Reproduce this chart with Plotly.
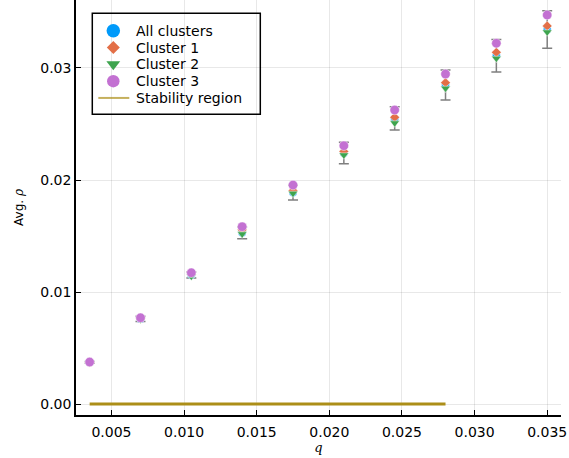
import plotly.graph_objects as go

# Coupling strength values
q_vals = [0.0035, 0.007, 0.0105, 0.014, 0.0175, 0.021, 0.0245, 0.028, 0.0315, 0.035]

# Average rho over all clusters, with standard deviation
all_mean = [0.00372, 0.00760, 0.01152, 0.01528, 0.01888, 0.02242, 0.02550, 0.02848, 0.03110, 0.03344]
all_err = [0.00008, 0.00023, 0.00027, 0.00052, 0.00066, 0.00096, 0.00104, 0.00134, 0.00145, 0.00168]

# Per-cluster averages
cluster1 = [0.00372, 0.00762, 0.01158, 0.01555, 0.01905, 0.02255, 0.02560, 0.02869, 0.03140, 0.03375]
cluster2 = [0.00370, 0.00755, 0.01140, 0.01518, 0.01881, 0.02223, 0.02509, 0.02819, 0.03086, 0.03321]
cluster3 = [0.00375, 0.00770, 0.01172, 0.01583, 0.01955, 0.02306, 0.02625, 0.02946, 0.03221, 0.03473]

# Stable synchronous region along q
stability_q = [0.0035, 0.028]
stability_rho = [0.0, 0.0]

x_ticks = [0.005, 0.010, 0.015, 0.020, 0.025, 0.030, 0.035]
y_ticks = [0.00, 0.01, 0.02, 0.03]

series_names = ["All clusters", "Cluster 1", "Cluster 2", "Cluster 3", "Stability region"]

FONT = "DejaVu Sans"
BLUE, ORANGE, GREEN, PURPLE, GOLD = "#009AFA", "#E36F47", "#3EA44E", "#C371D2", "#AC8E18"
mk_line = dict(width=0.6, color="rgba(255,255,255,0.8)")

fig = go.Figure()
fig.add_trace(go.Scatter(
    x=q_vals, y=all_mean, mode="markers", name=series_names[0], showlegend=False,
    marker=dict(symbol="circle", size=8, color=BLUE, line=mk_line),
    error_y=dict(type="data", array=all_err, color="#7f7f7f", thickness=1.5, width=5),
))
fig.add_trace(go.Scatter(
    x=q_vals, y=cluster1, mode="markers", name=series_names[1], showlegend=False,
    marker=dict(symbol="diamond", size=7.5, color=ORANGE, line=mk_line),
))
fig.add_trace(go.Scatter(
    x=q_vals, y=cluster2, mode="markers", name=series_names[2], showlegend=False,
    marker=dict(symbol="triangle-down", size=8.5, color=GREEN, line=mk_line),
))
fig.add_trace(go.Scatter(
    x=q_vals, y=cluster3, mode="markers", name=series_names[3], showlegend=False,
    marker=dict(symbol="circle", size=9.5, color=PURPLE, line=mk_line),
))
fig.add_trace(go.Scatter(
    x=stability_q, y=stability_rho, mode="lines", name=series_names[4], showlegend=False,
    line=dict(color=GOLD, width=3),
))

# ---- compact legend, laid out on an overlay axis in plot-area fractions ----
LEG_BOX = (0.0336, 0.7246, 0.380, 0.968)           # x0, y0, x1, y1
LEG_SYM_X = 0.0769
LEG_TEXT_X = 0.1216
LEG_ROWS = [0.926, 0.8855, 0.845, 0.8045, 0.764]
LEG_LINE_X = (0.046, 0.1099)

legend_symbols = [
    ("circle", 13.5, BLUE),
    ("diamond", 10, ORANGE),
    ("triangle-down", 12, GREEN),
    ("circle", 12.5, PURPLE),
]
fig.add_shape(type="rect", xref="paper", yref="paper",
              x0=LEG_BOX[0], y0=LEG_BOX[1], x1=LEG_BOX[2], y1=LEG_BOX[3],
              line=dict(color="black", width=1.5), fillcolor="white", layer="between")
for (sym, size, col), yy in zip(legend_symbols, LEG_ROWS):
    fig.add_trace(go.Scatter(
        x=[LEG_SYM_X], y=[yy], xaxis="x2", yaxis="y2", mode="markers",
        showlegend=False, hoverinfo="skip",
        marker=dict(symbol=sym, size=size, color=col, line=dict(width=0)),
    ))
fig.add_trace(go.Scatter(
    x=list(LEG_LINE_X), y=[LEG_ROWS[4]] * 2, xaxis="x2", yaxis="y2", mode="lines",
    showlegend=False, hoverinfo="skip",
    line=dict(color="rgba(172,142,24,0.7)", width=2),
))
for name, yy in zip(series_names, LEG_ROWS):
    fig.add_annotation(text=name, xref="paper", yref="paper", x=LEG_TEXT_X, y=yy,
                       xanchor="left", yanchor="middle", showarrow=False, borderpad=0,
                       font=dict(family=FONT, size=14, color="black"))

axis_common = dict(
    showline=True, linecolor="black", linewidth=1.5,
    ticks="inside", ticklen=5, tickwidth=1, tickcolor="black",
    showgrid=True, gridcolor="rgba(0,0,0,0.09)", gridwidth=1,
    zeroline=False, mirror=False,
    tickfont=dict(family=FONT, size=14, color="black"),
)

fig.update_layout(
    width=569, height=458,
    margin=dict(l=76, r=8, t=0, b=43),
    paper_bgcolor="white", plot_bgcolor="white",
    font=dict(family=FONT, size=12, color="black"),
    xaxis=dict(
        range=[0.00256, 0.03595], tickvals=x_ticks, tickformat=".3f",
        ticklabelstandoff=3,
        title=dict(text="<i>q</i>", font=dict(family="DejaVu Serif", size=13), standoff=2),
        **axis_common,
    ),
    yaxis=dict(
        range=[-0.00098, 0.03607], tickvals=y_ticks, tickformat=".2f",
        title=dict(text="Avg. <i><span style='font-family:DejaVu Serif'>ρ</span></i>",
                   font=dict(family=FONT, size=12), standoff=14),
        **axis_common,
    ),
    xaxis2=dict(overlaying="x", range=[0, 1], visible=False, fixedrange=True),
    yaxis2=dict(overlaying="y", range=[0, 1], visible=False, fixedrange=True),
    showlegend=False,
)

fig.write_html("out.html")
